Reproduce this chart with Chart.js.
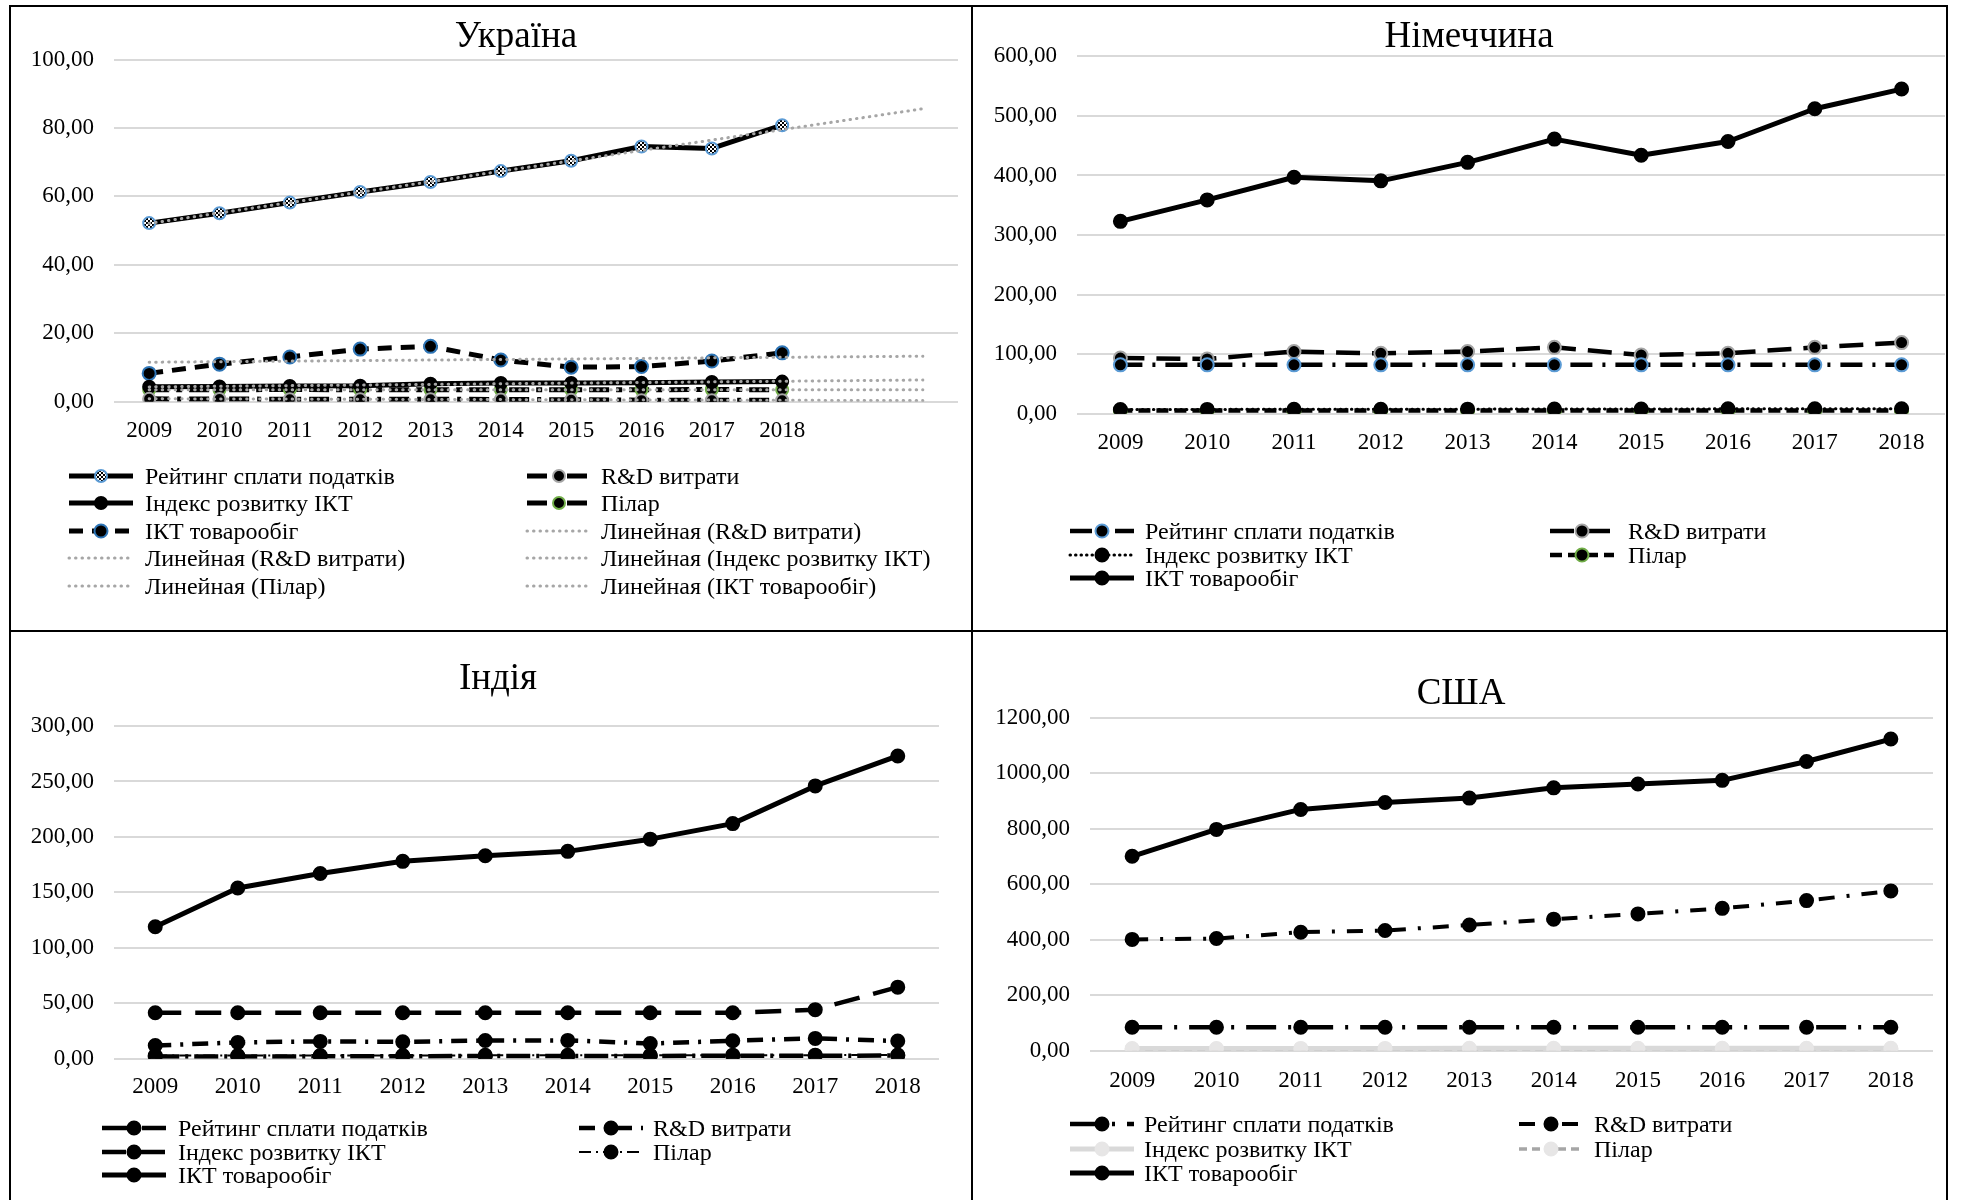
<!DOCTYPE html>
<html lang="uk">
<head>
<meta charset="utf-8">
<title>Україна, Німеччина, Індія, США</title>
<script src="https://cdn.jsdelivr.net/npm/chart.js@4.4.1/dist/chart.umd.min.js"></script>
<style>
  html, body { margin: 0; padding: 0; background: #fff; }
  body { position: relative; width: 1961px; height: 1200px; overflow: hidden; font-family: "Liberation Serif", "Times New Roman", serif; color: #000; }
  canvas.layer { position: absolute; left: 0; top: 0; }
  .frame { position: absolute; background: #000; }
  .title { position: absolute; transform: translate(-50%, -50%); font-size: 37px; line-height: 1; white-space: nowrap; }
  .lg-sample { position: absolute; }
  .lg-text { position: absolute; font-size: 24px; line-height: 28px; white-space: nowrap; }
</style>
</head>
<body>
<div class="frame" style="left:9px; top:5px; width:1939px; height:2px;"></div>
<div class="frame" style="left:9px; top:630px; width:1939px; height:2px;"></div>
<div class="frame" style="left:9px; top:5px; width:2px; height:1195px;"></div>
<div class="frame" style="left:971px; top:5px; width:2px; height:1195px;"></div>
<div class="frame" style="left:1946px; top:5px; width:2px; height:1195px;"></div>
<script>
// ---- categories and tick labels ----
const years = ['2009', '2010', '2011', '2012', '2013', '2014', '2015', '2016', '2017', '2018'];
const uaTicks = years.concat(['', '']);   // two extra slots: trendline forecast

const seriesNames = ['Рейтинг сплати податків', 'R&D витрати', 'Індекс розвитку ІКТ', 'Пілар', 'ІКТ товарообіг'];
const uaTrendNames = ['Линейная (R&D витрати)', 'Линейная (R&D витрати)', 'Линейная (Індекс розвитку ІКТ)', 'Линейная (Пілар)', 'Линейная (ІКТ товарообіг)'];

// ---- Україна ----
const uaTax    = [52.2, 55.1, 58.2, 61.3, 64.2, 67.4, 70.4, 74.6, 74.0, 80.8];
const uaRnd    = [0.86, 0.83, 0.74, 0.75, 0.77, 0.66, 0.62, 0.48, 0.45, 0.47];
const uaIdx    = [4.4, 4.5, 4.6, 4.7, 5.3, 5.5, 5.5, 5.6, 5.8, 5.9];
const uaPillar = [3.5, 3.5, 3.6, 3.5, 3.5, 3.5, 3.5, 3.5, 3.6, 3.5];
const uaTrade  = [8.3, 11.0, 13.1, 15.4, 16.2, 12.2, 10.1, 10.3, 11.9, 14.3];

// ---- Німеччина ----
const deTax    = [82.2, 82.2, 82.2, 82.2, 82.2, 82.2, 82.2, 82.2, 82.2, 82.2];
const deRnd    = [93.5, 92.0, 104.5, 101.5, 104.5, 111.5, 98.5, 101.5, 111.5, 119.5];
const deIdx    = [7.3, 7.4, 7.5, 7.6, 7.8, 8.0, 8.1, 8.3, 8.4, 8.4];
const dePillar = [5.5, 5.5, 5.5, 5.5, 5.5, 5.5, 5.5, 5.5, 5.5, 5.5];
const deTrade  = [323, 359, 397, 391, 422, 461, 434, 457, 512, 545];

// ---- Індія ----
const inTax    = [41.5, 41.5, 41.5, 41.5, 41.5, 41.5, 41.5, 41.5, 44.3, 64.6];
const inRnd    = [12.0, 14.8, 15.7, 15.3, 16.5, 16.6, 13.8, 16.3, 18.4, 16.0];
const inIdx    = [2.0, 2.1, 2.2, 2.3, 2.5, 2.5, 2.6, 2.7, 2.8, 2.9];
const inPillar = [2.9, 3.0, 3.0, 3.0, 3.1, 3.2, 3.2, 3.3, 3.3, 3.4];
const inTrade  = [119, 154, 167, 178, 183, 187, 198, 212, 246, 273];

// ---- США ----
const usTax    = [84, 84, 84, 84, 84, 84, 84, 84, 84, 84];
const usRnd    = [401, 404, 427, 433, 453, 474, 493, 513, 541, 576];
const usIdx    = [7.1, 7.3, 7.5, 7.6, 7.9, 8.0, 8.1, 8.2, 8.2, 8.2];
const usPillar = [5.6, 5.6, 5.7, 5.7, 5.8, 5.8, 5.9, 5.9, 6.0, 6.0];
const usTrade  = [701, 798, 870, 895, 911, 948, 962, 975, 1043, 1124];

const FONT = '"Liberation Serif", "Times New Roman", serif';

function fmt(v) { return Number(v).toFixed(2).replace('.', ','); }

// Least-squares linear trend over the observed points, extended to `length` slots.
function linearTrend(values, length) {
  const n = values.length;
  let sx = 0, sy = 0, sxy = 0, sxx = 0;
  values.forEach((v, i) => { sx += i; sy += v; sxy += i * v; sxx += i * i; });
  const slope = (n * sxy - sx * sy) / (n * sxx - sx * sx);
  const icpt = (sy - slope * sx) / n;
  return Array.from({ length }, (_, i) => icpt + slope * i);
}

function checkerPattern() {
  const c = document.createElement('canvas');
  c.width = 4; c.height = 4;
  const g = c.getContext('2d');
  g.fillStyle = '#fff'; g.fillRect(0, 0, 4, 4);
  g.fillStyle = '#000'; g.fillRect(0, 0, 2, 2); g.fillRect(2, 2, 2, 2);
  return g.createPattern(c, 'repeat');
}

function series(label, data, st, order) {
  return {
    label, data, order,
    borderColor: st.color || '#000',
    borderWidth: st.w,
    borderDash: st.dash || [],
    borderCapStyle: st.cap || 'butt',
    borderJoinStyle: 'round',
    pointRadius: st.r === undefined ? 6 : st.r,
    pointHoverRadius: st.r === undefined ? 6 : st.r,
    pointBackgroundColor: st.fill || '#000',
    pointBorderColor: st.edge || '#000',
    pointBorderWidth: st.bw === undefined ? 2 : st.bw,
    tension: 0,
    fill: false
  };
}

const trendStyle = { color: '#A6A6A6', w: 3, dash: [0.5, 6], cap: 'round', r: 0, bw: 0 };

const uaDatasets = [
  series(seriesNames[0], uaTax,    { w: 5, r: 6, fill: checkerPattern(), edge: '#5B9BD5' }, 1),
  series(seriesNames[1], uaRnd,    { w: 5, dash: [20, 8, 4, 8], edge: '#A5A5A5' }, 1),
  series(seriesNames[2], uaIdx,    { w: 5 }, 1),
  series(seriesNames[3], uaPillar, { w: 5, dash: [20, 7, 6, 7], edge: '#70AD47' }, 1),
  series(seriesNames[4], uaTrade,  { w: 5, dash: [14, 9], r: 6.5, edge: '#2E75B6' }, 1),
  series(uaTrendNames[0], linearTrend(uaTax, 12),    trendStyle, 0),
  series(uaTrendNames[1], linearTrend(uaRnd, 12),    trendStyle, 0),
  series(uaTrendNames[2], linearTrend(uaIdx, 12),    trendStyle, 0),
  series(uaTrendNames[3], linearTrend(uaPillar, 12), trendStyle, 0),
  series(uaTrendNames[4], linearTrend(uaTrade, 12),  trendStyle, 0)
];

const deDatasets = [
  series(seriesNames[0], deTax,    { w: 4.5, dash: [22, 10, 3, 10], r: 6.5, edge: '#5B9BD5' }, 1),
  series(seriesNames[1], deRnd,    { w: 4.5, dash: [24, 12], r: 6.5, edge: '#A5A5A5' }, 1),
  series(seriesNames[2], deIdx,    { w: 3, dash: [0.5, 5], cap: 'round', r: 6.5 }, 1),
  series(seriesNames[3], dePillar, { w: 4.5, dash: [12, 6], r: 6.5, edge: '#70AD47' }, 1),
  series(seriesNames[4], deTrade,  { w: 5, r: 6.5 }, 1)
];

const inDatasets = [
  series(seriesNames[0], inTax,    { w: 4.5, dash: [26, 14], r: 6.5 }, 1),
  series(seriesNames[1], inRnd,    { w: 4.5, dash: [16, 9, 3, 9], r: 6.5 }, 1),
  series(seriesNames[2], inIdx,    { w: 4.5, dash: [24, 6, 3, 6], r: 6.5 }, 1),
  series(seriesNames[3], inPillar, { w: 2, dash: [12, 5, 2, 5], r: 6.5 }, 1),
  series(seriesNames[4], inTrade,  { w: 5, r: 6.5 }, 1)
];

const usDatasets = [
  series(seriesNames[0], usTax,    { w: 4.5, dash: [30, 12, 3, 12], r: 6.5 }, 1),
  series(seriesNames[1], usRnd,    { w: 4, dash: [16, 12, 3, 12], r: 6.5 }, 1),
  series(seriesNames[2], usIdx,    { w: 5, color: '#D9D9D9', fill: '#E7E6E6', edge: '#E7E6E6', r: 6.5 }, 1),
  series(seriesNames[3], usPillar, { w: 3.5, color: '#A6A6A6', dash: [8, 5], fill: '#E7E6E6', edge: '#E7E6E6', r: 6.5 }, 1),
  series(seriesNames[4], usTrade,  { w: 5, r: 6.5 }, 1)
];

const panels = [
  { title: 'Україна', tx: 516, ty: 34, ticks: uaTicks, datasets: uaDatasets,
    area: { l: 114, r: 958, t: 59.5, b: 401.8 }, yMax: 100, yStep: 20, labelY: 430,
    legend: { sample: [67, 525], text: [145, 601], rows: [476, 503, 531, 558, 586] } },
  { title: 'Німеччина', tx: 1469, ty: 34, ticks: years, datasets: deDatasets,
    area: { l: 1077, r: 1945, t: 56.3, b: 413.8 }, yMax: 600, yStep: 100, labelY: 442,
    legend: { sample: [1068, 1548], text: [1145, 1628], rows: [531, 555, 578] } },
  { title: 'Індія', tx: 498, ty: 676, ticks: years, datasets: inDatasets,
    area: { l: 114, r: 939, t: 726, b: 1058.8 }, yMax: 300, yStep: 50, labelY: 1086,
    legend: { sample: [100, 577], text: [178, 653], rows: [1128, 1152, 1175] } },
  { title: 'США', tx: 1461, ty: 691, ticks: years, datasets: usDatasets,
    area: { l: 1090, r: 1933, t: 718, b: 1050.5 }, yMax: 1200, yStep: 200, labelY: 1080,
    legend: { sample: [1068, 1517], text: [1144, 1594], rows: [1124, 1149, 1173] } }
];

function drawSample(cv, ds) {
  const g = cv.getContext('2d');
  const w = cv.width, h = cv.height;
  g.strokeStyle = ds.borderColor;
  g.lineWidth = ds.borderWidth;
  g.setLineDash(ds.borderDash);
  g.lineCap = ds.borderCapStyle;
  g.beginPath(); g.moveTo(2, h / 2); g.lineTo(w - 2, h / 2); g.stroke();
  if (ds.pointRadius > 0) {
    g.setLineDash([]);
    g.beginPath(); g.arc(w / 2, h / 2, ds.pointRadius, 0, Math.PI * 2);
    g.fillStyle = ds.pointBackgroundColor; g.fill();
    if (ds.pointBorderWidth > 0) { g.lineWidth = ds.pointBorderWidth; g.strokeStyle = ds.pointBorderColor; g.stroke(); }
  }
}

function buildPanel(p) {
  const cv = document.createElement('canvas');
  cv.className = 'layer'; cv.width = 1961; cv.height = 1200;
  document.body.appendChild(cv);

  new Chart(cv, {
    type: 'line',
    data: { labels: p.ticks, datasets: p.datasets },
    options: {
      responsive: false, animation: false, devicePixelRatio: 1, events: [],
      layout: { padding: { left: 0, right: 1961 - p.area.r, top: p.area.t, bottom: 0 } },
      plugins: { legend: { display: false }, title: { display: false }, tooltip: { enabled: false } },
      scales: {
        x: {
          type: 'category', offset: true,
          grid: { display: false, drawTicks: false }, border: { display: false },
          ticks: { color: '#000', font: { family: FONT, size: 23 }, padding: p.labelY - p.area.b - 13, autoSkip: false, maxRotation: 0 },
          afterFit(s) { s.height = 1200 - p.area.b; }
        },
        y: {
          min: 0, max: p.yMax,
          grid: { color: '#D9D9D9', lineWidth: 2, drawTicks: false }, border: { display: false },
          ticks: { stepSize: p.yStep, color: '#000', font: { family: FONT, size: 23 }, padding: 20, callback: v => fmt(v) },
          afterFit(s) { s.width = p.area.l; }
        }
      }
    }
  });

  const t = document.createElement('div');
  t.className = 'title'; t.textContent = p.title;
  t.style.left = p.tx + 'px'; t.style.top = p.ty + 'px';
  document.body.appendChild(t);

  p.datasets.forEach((ds, i) => {
    const col = i % 2, row = Math.floor(i / 2);
    const y = p.legend.rows[row];
    const s = document.createElement('canvas');
    s.className = 'lg-sample'; s.width = 68; s.height = 20;
    s.style.left = p.legend.sample[col] + 'px'; s.style.top = (y - 10) + 'px';
    document.body.appendChild(s);
    drawSample(s, ds);
    const tx = document.createElement('div');
    tx.className = 'lg-text'; tx.textContent = ds.label;
    tx.style.left = p.legend.text[col] + 'px'; tx.style.top = (y - 14) + 'px';
    document.body.appendChild(tx);
  });
}

panels.forEach(buildPanel);
</script>
</body>
</html>
